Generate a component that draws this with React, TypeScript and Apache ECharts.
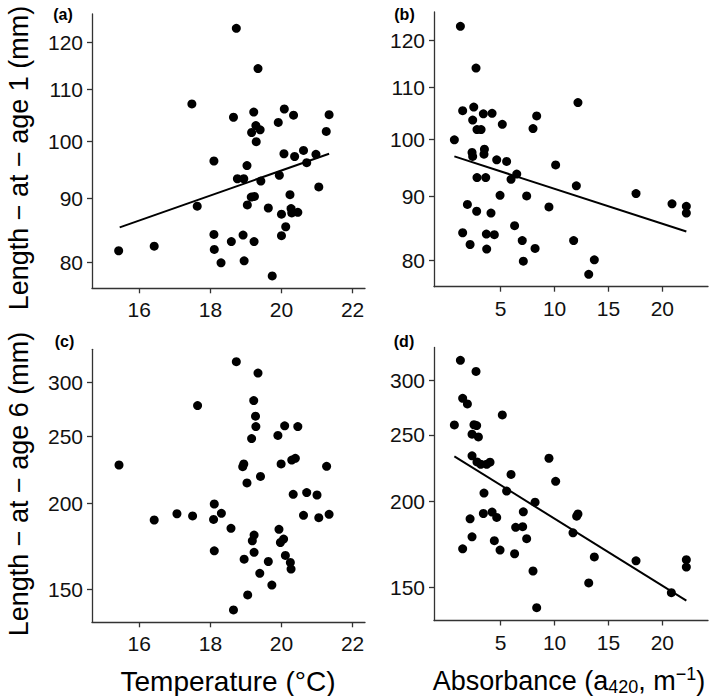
import React, { useEffect, useRef } from "react";
import * as echarts from "echarts";

// ---------- data ----------
const tempA = [15.42, 16.42, 17.48, 17.63, 18.1, 18.1, 18.11, 18.3, 18.59, 18.65, 18.73, 18.76, 18.94, 18.92, 18.95, 19.03, 19.04, 19.15, 19.24, 19.22, 19.16, 19.28, 19.4, 19.29, 19.23, 19.34, 19.42, 19.63, 19.74, 19.91, 19.94, 20.0, 20.0, 20.07, 20.08, 20.12, 20.24, 20.27, 20.29, 20.46, 20.34, 20.37, 20.62, 20.71, 20.97, 21.05, 21.26, 21.34];
const len1A = [81.7, 82.4, 107.1, 88.7, 96.4, 84.2, 81.9, 79.9, 83.1, 104.5, 123.1, 93.3, 93.3, 84.1, 80.2, 95.6, 88.9, 90.2, 90.3, 105.5, 101.6, 102.9, 102.1, 99.9, 83.1, 114.3, 92.9, 88.4, 78.0, 103.5, 93.9, 87.4, 84.0, 97.7, 106.1, 85.4, 90.6, 88.3, 87.6, 87.7, 104.9, 97.2, 98.3, 96.1, 97.6, 91.9, 101.8, 105.0];

const absB = [1.26, 0.7, 1.47, 1.47, 1.91, 2.16, 2.5, 2.4, 2.34, 2.4, 2.71, 2.8, 3.18, 2.8, 2.77, 3.39, 3.49, 3.45, 3.61, 3.67, 3.7, 4.1, 4.2, 4.41, 4.63, 4.94, 5.15, 5.55, 5.96, 6.49, 6.29, 7.0, 7.1, 7.41, 8.0, 8.34, 8.19, 9.48, 10.1, 11.77, 12.02, 12.17, 13.17, 13.69, 17.56, 20.9, 22.23, 22.23];
const len1B = [123.1, 99.9, 105.4, 84.2, 88.7, 82.4, 106.1, 103.6, 97.6, 96.9, 114.0, 101.8, 101.8, 93.2, 87.6, 104.8, 98.2, 97.3, 93.2, 84.0, 81.7, 87.3, 104.9, 83.9, 96.3, 90.2, 102.8, 96.0, 92.9, 93.8, 85.3, 83.0, 79.9, 90.1, 102.0, 104.4, 81.8, 88.3, 95.4, 83.0, 91.8, 107.0, 78.0, 80.1, 90.5, 88.8, 88.4, 87.3];

const tempC = [15.43, 16.42, 17.06, 17.5, 17.64, 18.11, 18.09, 18.11, 18.31, 18.58, 18.65, 18.73, 18.91, 18.94, 18.95, 19.03, 19.05, 19.16, 19.18, 19.22, 19.23, 19.23, 19.27, 19.28, 19.34, 19.41, 19.39, 19.63, 19.73, 19.9, 19.93, 19.99, 19.97, 20.06, 20.09, 20.11, 20.25, 20.27, 20.29, 20.39, 20.33, 20.46, 20.62, 20.71, 21.0, 21.05, 21.27, 21.34];
const len6C = [227.4, 189.2, 193.2, 191.8, 277.4, 199.6, 189.6, 170.7, 193.5, 184.0, 140.1, 321.2, 226.1, 228.2, 166.0, 214.2, 147.3, 248.4, 176.5, 282.1, 179.9, 169.8, 267.7, 258.6, 309.2, 218.9, 158.3, 164.7, 152.2, 251.0, 183.4, 228.2, 175.5, 177.5, 259.2, 168.1, 164.2, 160.6, 231.2, 232.5, 206.2, 258.6, 192.2, 207.4, 205.7, 190.7, 226.4, 192.8];

const absD = [1.26, 0.7, 1.47, 1.91, 1.47, 2.16, 2.34, 2.34, 2.34, 2.71, 2.52, 2.77, 2.93, 2.8, 3.15, 3.39, 3.45, 3.7, 4.01, 4.2, 4.63, 4.41, 4.94, 5.15, 5.55, 5.96, 6.29, 6.39, 7.04, 7.1, 7.41, 8.0, 8.19, 8.34, 9.48, 10.1, 11.71, 12.05, 12.17, 13.17, 13.69, 17.56, 20.84, 22.23, 22.23];
const len6D = [320.7, 258.4, 282.5, 277.2, 170.8, 188.8, 177.8, 233.1, 250.6, 309.1, 258.6, 257.9, 248.3, 228.4, 226.6, 192.2, 205.8, 226.6, 228.2, 193.1, 189.7, 175.5, 170.1, 267.2, 207.2, 219.0, 168.0, 183.5, 183.9, 193.3, 176.7, 158.6, 199.6, 140.3, 231.2, 214.0, 180.2, 190.5, 191.9, 152.4, 166.2, 164.1, 147.5, 164.7, 160.7];

const fitAX = [15.45, 21.34];
const fitAY = [85.3, 97.7];
const fitBX = [0.7, 22.23];
const fitBY = [96.9, 84.4];
const fitDX = [0.7, 22.23];
const fitDY = [232.7, 143.6];

const yTicksAge1 = [80, 90, 100, 110, 120];
const yTicksAge6 = [150, 200, 250, 300];
const xTicksTemp = [16, 18, 20, 22];
const xTicksAbs = [5, 10, 15, 20];

const panelLabels = ["(a)", "(b)", "(c)", "(d)"];

// ---------- helpers ----------
const lg = (v: number) => Math.log10(v);
const FONT = "'Liberation Sans', Arial, Helvetica, sans-serif";
const AXIS_COLOR = "#333";
const TEXT_COLOR = "#111";
const TICK_FONT = 21;

const pairs = (xs: number[], ys: number[]) => xs.map((x, i) => [x, lg(ys[i])]);

function xAxisOf(grid: number, min: number, max: number, ticks: number[]) {
  return {
    type: "value",
    gridIndex: grid,
    min,
    max,
    axisLine: { show: true, onZero: false, lineStyle: { color: AXIS_COLOR, width: 1.3 } },
    axisTick: { show: true, length: 5, customValues: ticks, lineStyle: { color: AXIS_COLOR, width: 1.3 } },
    axisLabel: {
      customValues: ticks,
      fontSize: TICK_FONT,
      color: TEXT_COLOR,
      fontFamily: FONT,
      margin: 11,
      formatter: (v: number) => String(v),
    },
    splitLine: { show: false },
  };
}

function yAxisOf(grid: number, min: number, max: number, ticks: number[]) {
  const t = ticks.map(lg);
  return {
    type: "value",
    gridIndex: grid,
    min: lg(min),
    max: lg(max),
    axisLine: { show: true, onZero: false, lineStyle: { color: AXIS_COLOR, width: 1.3 } },
    axisTick: { show: true, length: 5, customValues: t, lineStyle: { color: AXIS_COLOR, width: 1.3 } },
    axisLabel: {
      customValues: t,
      fontSize: TICK_FONT,
      color: TEXT_COLOR,
      fontFamily: FONT,
      margin: 9,
      formatter: (v: number) => String(Math.round(Math.pow(10, v))),
    },
    splitLine: { show: false },
  };
}

function scatterOf(idx: number, data: number[][]) {
  return {
    type: "scatter",
    xAxisIndex: idx,
    yAxisIndex: idx,
    data,
    symbol: "circle",
    symbolSize: 9,
    itemStyle: { color: "#000", opacity: 1 },
    silent: true,
  };
}

function fitOf(idx: number, xs: number[], ys: number[]) {
  return {
    type: "line",
    xAxisIndex: idx,
    yAxisIndex: idx,
    data: pairs(xs, ys),
    symbol: "none",
    lineStyle: { color: "#000", width: 2 },
    silent: true,
    z: 3,
  };
}

export default function App() {
  const ref = useRef<HTMLDivElement>(null);

  useEffect(() => {
    if (!ref.current) return;
    const chart = echarts.init(ref.current, null, { renderer: "svg" });

    const labelPos = [
      [63, 14.5],
      [404.5, 14],
      [64.5, 341.5],
      [404, 341],
    ];

    const option: any = {
      animation: false,
      backgroundColor: "#fff",
      grid: [
        { left: 92, top: 14, width: 273, height: 274.3 },
        { left: 434, top: 12, width: 274, height: 274.7 },
        { left: 92, top: 349.3, width: 273, height: 273 },
        { left: 434, top: 347.5, width: 274, height: 273 },
      ],
      xAxis: [
        xAxisOf(0, 14.67, 22.35, xTicksTemp),
        xAxisOf(1, -1.19, 24.24, xTicksAbs),
        xAxisOf(2, 14.67, 22.35, xTicksTemp),
        xAxisOf(3, -1.19, 24.24, xTicksAbs),
      ],
      yAxis: [
        yAxisOf(0, 76.24, 126.4, yTicksAge1),
        yAxisOf(1, 76.24, 126.4, yTicksAge1),
        yAxisOf(2, 134.4, 334.8, yTicksAge6),
        yAxisOf(3, 134.4, 334.8, yTicksAge6),
      ],
      series: [
        scatterOf(0, pairs(tempA, len1A)),
        scatterOf(1, pairs(absB, len1B)),
        scatterOf(2, pairs(tempC, len6C)),
        scatterOf(3, pairs(absD, len6D)),
        fitOf(0, fitAX, fitAY),
        fitOf(1, fitBX, fitBY),
        fitOf(3, fitDX, fitDY),
      ],
      graphic: [
        ...panelLabels.map((t, i) => ({
          type: "text",
          x: labelPos[i][0],
          y: labelPos[i][1],
          style: {
            text: t,
            fontSize: 16,
            fontWeight: "bold",
            fontFamily: FONT,
            fill: "#000",
            align: "center",
            verticalAlign: "middle",
          },
        })),
        {
          type: "text",
          x: 19,
          y: 158,
          rotation: Math.PI / 2,
          style: {
            text: "Length \u2212 at \u2212 age 1 (mm)",
            fontSize: 27,
            fontFamily: FONT,
            fill: "#000",
            align: "center",
            verticalAlign: "middle",
          },
        },
        {
          type: "text",
          x: 19,
          y: 484,
          rotation: Math.PI / 2,
          style: {
            text: "Length \u2212 at \u2212 age 6 (mm)",
            fontSize: 27,
            fontFamily: FONT,
            fill: "#000",
            align: "center",
            verticalAlign: "middle",
          },
        },
        {
          type: "text",
          x: 228,
          y: 681,
          style: {
            text: "Temperature (\u00b0C)",
            fontSize: 28,
            fontFamily: FONT,
            fill: "#000",
            align: "center",
            verticalAlign: "middle",
          },
        },
        {
          type: "text",
          x: 569,
          y: 681,
          style: {
            text: "{m|Absorbance (a}{sub|420}{m|, m}{sup|\u22121}{m|)}",
            fontFamily: FONT,
            fill: "#000",
            align: "center",
            verticalAlign: "middle",
            rich: {
              m: { fontSize: 27, fontFamily: FONT, fill: "#000", lineHeight: 40 },
              sub: { fontSize: 18, fontFamily: FONT, fill: "#000", height: 28, lineHeight: 28, verticalAlign: "bottom" },
              sup: { fontSize: 18, fontFamily: FONT, fill: "#000", height: 26, lineHeight: 26, verticalAlign: "top" },
            },
          },
        },
      ],
    };

    chart.setOption(option);
    return () => chart.dispose();
  }, []);

  return (
    <div
      ref={ref}
      style={{ position: "fixed", left: 0, top: 0, width: 709, height: 696, background: "#fff" }}
    />
  );
}
